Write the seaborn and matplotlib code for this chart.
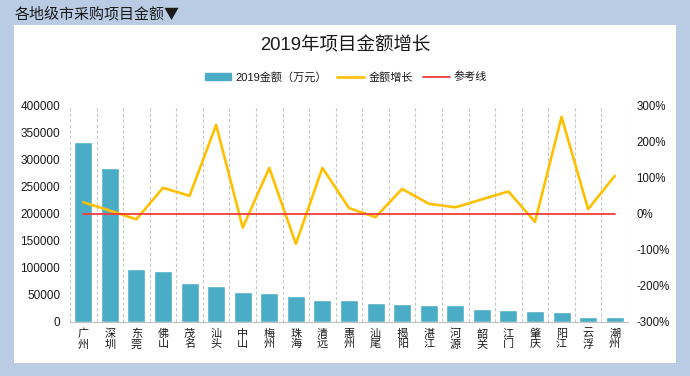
import numpy as np
import pandas as pd
import matplotlib
matplotlib.use("Agg")
import matplotlib.pyplot as plt
import matplotlib.patches as mpatches
import matplotlib.lines as mlines
from matplotlib.ticker import FuncFormatter, MultipleLocator
import seaborn as sns

# Data
cities = ["广州", "深圳", "东莞", "佛山", "茂名", "汕头", "中山", "梅州", "珠海", "清远",
          "惠州", "汕尾", "揭阳", "湛江", "河源", "韶关", "江门", "肇庆", "阳江", "云浮", "潮州"]
amount_2019 = [331000, 284000, 97500, 94000, 72000, 66000, 55500, 53500, 48000, 40500,
               40000, 35000, 33000, 31000, 30500, 24000, 22000, 20000, 18400, 9200, 9000]
growth = [0.31, 0.08, -0.16, 0.71, 0.49, 2.45, -0.39, 1.26, -0.84, 1.26,
          0.15, -0.10, 0.68, 0.27, 0.17, 0.39, 0.61, -0.23, 2.67, 0.12, 1.04]
reference = [0.0] * len(cities)

bar_color = "#4bacc6"
line_color = "#ffc000"
ref_color = "#f23c3c"
bg_color = "#b9cce4"
text_color = "#1a1a1a"

sns.set_style("white")
plt.rcParams['font.family'] = ['Liberation Sans', 'Noto Sans CJK SC', 'DejaVu Sans']
plt.rcParams['font.size'] = 8

df = pd.DataFrame({"city": cities, "amount": amount_2019, "growth": growth, "ref": reference})

W, H = 690, 376
fig = plt.figure(figsize=(W / 100, H / 100), dpi=100, facecolor=bg_color)

# white panel
fig.patches.append(mpatches.Rectangle((14 / W, 1 - 363 / H), (676 - 14) / W, (363 - 25) / H,
                                      transform=fig.transFigure, facecolor="white",
                                      edgecolor="none", zorder=-10))
fig.text(15 / W, 1 - 14 / H, "各地级市采购项目金额▼", fontsize=10.8, va="center", ha="left",
         color=text_color, family=['Noto Sans CJK SC', 'DejaVu Sans'])
fig.text(345 / W, 1 - 46 / H, "2019年项目金额增长", fontsize=13.3, va="center", ha="center",
         color=text_color)

ax = fig.add_axes([70 / W, 1 - 322 / H, (628 - 70) / W, (322 - 105) / H])
ax.set_facecolor("none")
sns.barplot(data=df, x="city", y="amount", color=bar_color, width=0.68, saturation=1, ax=ax)
ax.set_ylim(0, 400000)
ax.yaxis.set_major_locator(MultipleLocator(50000))
ax.set_xlim(-0.5, len(cities) - 0.5)
ax.set_xlabel("")
ax.set_ylabel("")
ax.set_xticks(range(len(cities)))
ax.set_xticklabels(["\n".join(c) for c in cities], fontsize=8, linespacing=1.0)
ax.set_xticks(np.arange(-0.5, len(cities), 1.0), minor=True)
ax.grid(False)
ax.xaxis.grid(True, which="minor", linestyle=(0, (3, 2)), color="#c8c8c8", linewidth=0.8)
ax.tick_params(axis="both", length=0, pad=5, colors=text_color)
ax.tick_params(axis="y", labelsize=8.5, pad=7)
ax.tick_params(axis="x", which="minor", length=0)
for s in ["top", "left", "right"]:
    ax.spines[s].set_visible(False)
ax.spines["bottom"].set_color("#bfbfbf")

ax2 = ax.twinx()
sns.lineplot(data=df, x="city", y="growth", color=line_color, linewidth=1.9, sort=False, ax=ax2)
sns.lineplot(data=df, x="city", y="ref", color=ref_color, linewidth=1.3, sort=False, ax=ax2)
ax2.set_ylim(-3, 3)
ax2.yaxis.set_major_locator(MultipleLocator(1))
ax2.yaxis.set_major_formatter(FuncFormatter(lambda v, p: f"{v * 100:.0f}%"))
ax2.set_ylabel("")
ax2.set_xlim(-0.5, len(cities) - 0.5)
ax2.tick_params(axis="y", length=0, pad=6, colors=text_color, labelsize=8.3)
for s in ["top", "left", "right", "bottom"]:
    ax2.spines[s].set_visible(False)

handles = [mpatches.Patch(color=bar_color),
           mlines.Line2D([], [], color=line_color, linewidth=1.9),
           mlines.Line2D([], [], color=ref_color, linewidth=1.3)]
labels = ["2019金额（万元）", "金额增长", "参考线"]
fig.legend(handles, labels, loc="center", bbox_to_anchor=(346 / W, 1 - 77 / H), ncol=3,
           frameon=False, fontsize=8, handlelength=2.4, handleheight=0.6,
           columnspacing=0.9, handletextpad=0.4, labelcolor=text_color)

fig.savefig("out.png", dpi=100, facecolor=bg_color)
